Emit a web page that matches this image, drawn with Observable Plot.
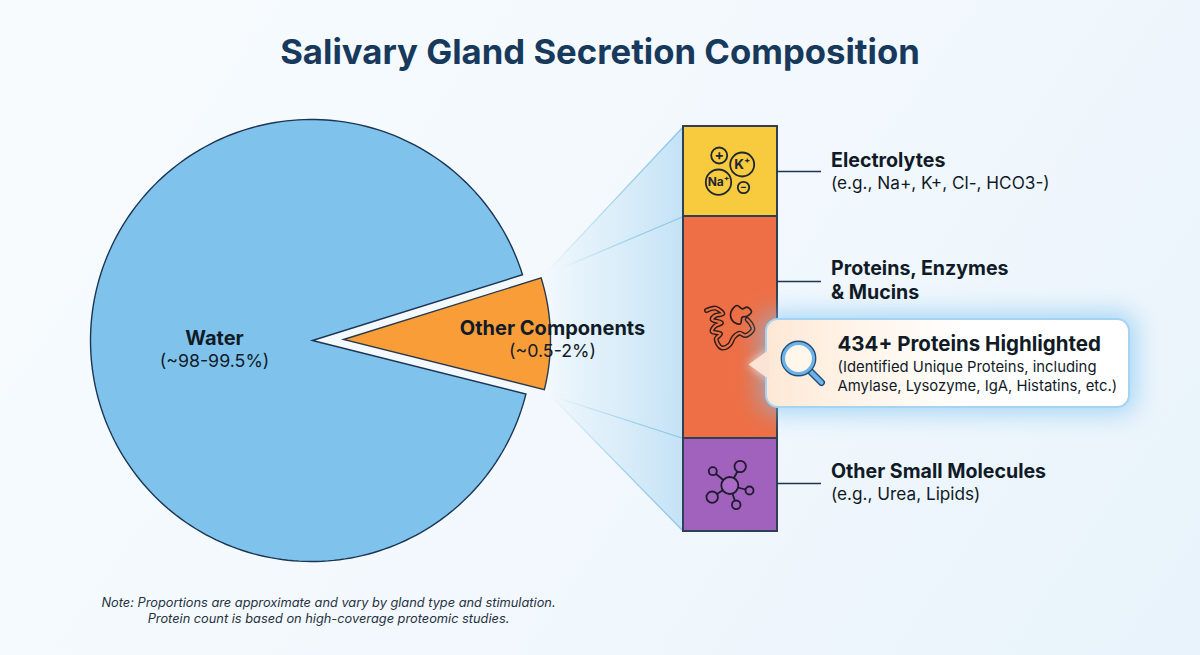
<!DOCTYPE html>
<html>
<head>
<meta charset="utf-8">
<script src="https://cdn.jsdelivr.net/npm/d3@7"></script>
<script src="https://cdn.jsdelivr.net/npm/@observablehq/plot@0.6"></script>
<style>
html,body{margin:0;padding:0;width:1200px;height:655px;overflow:hidden;
  background:linear-gradient(125deg,#f7fbfe 0%,#f2f8fd 55%,#e8f3fb 100%);font-family:Inter,sans-serif;}
h1{margin:0;box-sizing:border-box;height:90px;padding-top:31px;line-height:40px;text-align:center;
  font-size:34.7px;font-weight:700;color:#17395c;}
#chart svg{display:block;background:transparent;}
#note{width:657px;box-sizing:border-box;padding-top:5px;text-align:center;font-style:italic;
  font-size:12.8px;line-height:16px;color:#26323f;}
</style>
</head>
<body>
<h1>Salivary Gland Secretion Composition</h1>
<div id="chart"></div>
<div id="note">Note: Proportions are approximate and vary by gland type and stimulation.<br>Protein count is based on high-coverage proteomic studies.</div>
<script>
// ---- data ----
const pieNames = ["Water", "Other Components"];
const pieRanges = ["(~98-99.5%)", "(~0.5-2%)"];
const pieShares = [91.3, 8.7];           // drawn share of the (schematic) pie
const pieColors = ["#7fc3ec", "#f99d38"];
const barNames = ["Electrolytes", "Proteins, Enzymes & Mucins", "Other Small Molecules"];
const barValues = [90, 222, 93];         // drawn height of each band
const barColors = ["#f8cb3e", "#ee6f45", "#a062bd"];

// ---- layout ----
const pie = {cx: 311, cy: 340, r: 221, rOther: 207, otherCx: 343, otherCy: 339, startDeg: -17.3};
const bar = {x1: 683, x2: 777, top: 126};
const ink = "#1b3553";
const txt = "#111b27";
const F = "Inter";

const rad = d => d * Math.PI / 180;
const arc = (cx, cy, r, a0, a1) => {
  const n = Math.ceil(Math.abs(a1 - a0) / 1.5);
  return d3.range(n + 1).map(i => {
    const a = rad(a0 + (a1 - a0) * i / n);
    return {x: cx + r * Math.cos(a), y: cy + r * Math.sin(a)};
  });
};
const total = d3.sum(pieShares);
const otherSweep = pieShares[1] / total * 360;
const otherEnd = pie.startDeg + otherSweep;
const waterPts = [{x: pie.cx + 1, y: pie.cy}, ...arc(pie.cx, pie.cy, pie.r, otherEnd, otherEnd + pieShares[0] / total * 360)];
const otherPts = [{x: pie.otherCx, y: pie.otherCy}, ...arc(pie.otherCx, pie.otherCy, pie.rOther, pie.startDeg, otherEnd)];

let acc = bar.top;
const bands = barValues.map((v, i) => {
  const b = {name: barNames[i], y1: acc, y2: acc + v, fill: barColors[i]};
  acc += v;
  return b;
});

const funnel = [{x: 545, y: 273}, {x: bar.x1, y: bands[0].y1}, {x: bar.x1, y: bands[2].y2}, {x: 549, y: 394}];
const rays = [
  [{x: 545, y: 273}, {x: bar.x1, y: bands[0].y1}],
  [{x: 560, y: 268}, {x: bar.x1, y: bands[1].y1}],
  [{x: 556, y: 397}, {x: bar.x1, y: bands[2].y1}],
  [{x: 549, y: 394}, {x: bar.x1, y: bands[2].y2}]
];
const leaders = [
  {x1: bar.x2, x2: 821, y: 171},
  {x1: bar.x2, x2: 821, y: 281},
  {x1: bar.x2, x2: 821, y: 483}
];

const box = {x1: 766, x2: 1129, y1: 319, y2: 407};
const pointer = [{x: 769, y: 349}, {x: 748, y: 364}, {x: 769, y: 379}];
const glass = {x: 798, y: 358};

const ions = [
  {x: 718.7, y: 155, r: 8},
  {x: 741.7, y: 164, r: 12},
  {x: 718, y: 181.7, r: 12.7},
  {x: 743, y: 187, r: 5.7}
];
const hub = {x: 729.3, y: 485};
const atoms = [
  {x: 712.3, y: 470.7, r: 4},
  {x: 739.7, y: 466, r: 5.7},
  {x: 749, y: 490, r: 4},
  {x: 735.7, y: 504.3, r: 4.3},
  {x: 711.7, y: 496.7, r: 5.7}
];
const fold = ([x, y]) => ({x: 695 + x / 3, y: 295 + y / 3});
const tube = [[33,45],[60,38],[82,55],[60,60],[50,72],[78,82],[58,92],[50,108],[75,115],[62,130],[78,157],[102,148],[115,125],[132,113],[150,120],[172,102],[166,85],[155,72]].map(fold);
const blob = [[110,42],[125,30],[140,40],[155,35],[168,48],[155,62],[140,65],[135,85],[115,80],[105,60]].map(fold);

const centerBold = [
  {x: 214, y: 338, t: pieNames[0], s: 20},
  {x: 552, y: 328, t: pieNames[1], s: 20}
];
const centerPlain = [
  {x: 214, y: 361, t: pieRanges[0], s: 17.8},
  {x: 552, y: 351, t: pieRanges[1], s: 17.8}
];
const startBold = [
  {x: 830.5, y: 160.5, t: barNames[0], s: 19.6},
  {x: 830.5, y: 268.5, t: "Proteins, Enzymes", s: 19.6},
  {x: 830.5, y: 292.5, t: "& Mucins", s: 19.6},
  {x: 830.5, y: 471.5, t: barNames[2], s: 19.6},
  {x: 837, y: 343.5, t: "434+ Proteins Highlighted", s: 20.5}
];
const startPlain = [
  {x: 830.5, y: 183, t: "(e.g., Na+, K+, Cl-, HCO3-)", s: 17.2},
  {x: 830.5, y: 494, t: "(e.g., Urea, Lipids)", s: 17.2},
  {x: 837, y: 367, t: "(Identified Unique Proteins, including", s: 14.85},
  {x: 837, y: 386, t: "Amylase, Lysozyme, IgA, Histatins, etc.)", s: 14.85}
];
const iconText = [
  {x: 718.7, y: 155, t: "+", s: 14},
  {x: 741.7, y: 164.5, t: "K\u207A", s: 13.5},
  {x: 718, y: 182, t: "Na\u207A", s: 12},
  {x: 743, y: 186.6, t: "\u2212", s: 10}
];

const defs = () => {
  const d = d3.create("svg:defs");
  d.html(`
    <linearGradient id="funnelGrad" x1="0" x2="1" y1="0" y2="0">
      <stop offset="0" stop-color="#d4ebf8" stop-opacity="0"/>
      <stop offset="0.25" stop-color="#d4ebf8" stop-opacity="0.45"/>
      <stop offset="1" stop-color="#c3e2f5" stop-opacity="1"/>
    </linearGradient>
    <linearGradient id="rayGrad" x1="0" x2="1" y1="0" y2="0">
      <stop offset="0" stop-color="#8cc6e6" stop-opacity="0"/>
      <stop offset="0.6" stop-color="#8cc6e6" stop-opacity="0.8"/>
      <stop offset="1" stop-color="#8cc6e6" stop-opacity="1"/>
    </linearGradient>
    <linearGradient id="boxGrad" x1="0" x2="1" y1="0" y2="0">
      <stop offset="0" stop-color="#fde8d5"/>
      <stop offset="0.25" stop-color="#fff4e9"/>
      <stop offset="0.55" stop-color="#ffffff"/>
      <stop offset="1" stop-color="#ffffff"/>
    </linearGradient>`);
  return d.node();
};

const closed = {curve: "linear-closed", strokeLinejoin: "miter", strokeMiterlimit: 10};
const label = (rows, fontWeight, textAnchor) =>
  Plot.text(rows, {x: "x", y: "y", text: "t", fontSize: "s", fontWeight, textAnchor, fontFamily: F, fill: txt});

const chart = Plot.plot({
  width: 1200,
  height: 500,
  margin: 0,
  axis: null,
  style: {background: "transparent"},
  x: {domain: [0, 1200], range: [0, 1200]},
  y: {domain: [90, 590], range: [0, 500]},
  r: {type: "identity"},
  marks: [
    defs,
    // funnel from the slice to the stacked bar
    Plot.line(funnel, {x: "x", y: "y", fill: "url(#funnelGrad)", stroke: "none", ...closed}),
    ...rays.map(r => Plot.line(r, {x: "x", y: "y", stroke: "url(#rayGrad)", strokeWidth: 1.3})),
    // pie
    Plot.line(waterPts, {x: "x", y: "y", fill: pieColors[0], stroke: ink, strokeWidth: 1.4, ...closed}),
    Plot.line(otherPts, {x: "x", y: "y", fill: pieColors[1], stroke: "#2a3a4c", strokeWidth: 1.4, ...closed}),
    // stacked bar
    Plot.rect(bands, {x1: () => bar.x1, x2: () => bar.x2, y1: "y1", y2: "y2", fill: "fill", stroke: "#2f3f55", strokeWidth: 2}),
    Plot.ruleY(leaders, {x1: "x1", x2: "x2", y: "y", stroke: ink, strokeWidth: 1.5}),
    // electrolyte icon
    Plot.dot(ions, {x: "x", y: "y", r: "r", stroke: "#1d2630", strokeWidth: 1.8, fill: "none"}),
    Plot.text(iconText, {x: "x", y: "y", text: "t", fontSize: "s", fontWeight: 700, fontFamily: F, fill: "#1d2630"}),
    // protein icon
    Plot.line(tube, {x: "x", y: "y", curve: "catmull-rom", stroke: "#2a1d1a", strokeWidth: 5}),
    Plot.line(tube, {x: "x", y: "y", curve: "catmull-rom", stroke: barColors[1], strokeWidth: 2.2}),
    Plot.line(blob, {x: "x", y: "y", curve: "catmull-rom-closed", stroke: "#2a1d1a", strokeWidth: 1.7, fill: barColors[1]}),
    // molecule icon
    Plot.link(atoms, {x1: () => hub.x, y1: () => hub.y, x2: "x", y2: "y", stroke: "#1f1a2e", strokeWidth: 1.8}),
    Plot.dot(atoms, {x: "x", y: "y", r: "r", stroke: "#1f1a2e", strokeWidth: 1.8, fill: barColors[2]}),
    Plot.dot([hub], {x: "x", y: "y", r: 8.5, stroke: "#1f1a2e", strokeWidth: 1.8, fill: "#a96bc6"}),
    // callout glow
    Plot.rect([box], {x1: d => d.x1 - 6, x2: d => d.x2 + 6, y1: d => d.y1 - 6, y2: d => d.y2 + 6, fill: "#7cc3f2", rx: 14, fillOpacity: 0.65, imageFilter: "blur(12px)"}),
    Plot.line(pointer, {x: "x", y: "y", fill: "#f3ddd6", stroke: "none", curve: "linear-closed", imageFilter: "blur(5px)"}),
    // callout
    Plot.rect([box], {x1: "x1", x2: "x2", y1: "y1", y2: "y2", fill: "url(#boxGrad)", stroke: "#a5d4f3", strokeWidth: 2, rx: 12}),
    Plot.line(pointer, {x: "x", y: "y", fill: "#fbe3d6", stroke: "none", curve: "linear-closed"}),
    // magnifier
    Plot.link([glass], {x1: d => d.x + 11, y1: d => d.y + 12, x2: d => d.x + 23, y2: d => d.y + 24, stroke: "#1f4e79", strokeWidth: 7, strokeLinecap: "round"}),
    Plot.link([glass], {x1: d => d.x + 11, y1: d => d.y + 12, x2: d => d.x + 23, y2: d => d.y + 24, stroke: "#6fb2e6", strokeWidth: 4.2, strokeLinecap: "round"}),
    Plot.dot([glass], {x: "x", y: "y", r: 15, stroke: "#1f4e79", strokeWidth: 5.8, fill: "none"}),
    Plot.dot([glass], {x: "x", y: "y", r: 15, stroke: "#6fb2e6", strokeWidth: 3.2, fill: "#fff6ec"}),
    // labels
    label(centerBold, 700, "middle"),
    label(centerPlain, 400, "middle"),
    label(startBold, 700, "start"),
    label(startPlain, 400, "start")
  ]
});
document.getElementById("chart").append(chart);
</script>
</body>
</html>
